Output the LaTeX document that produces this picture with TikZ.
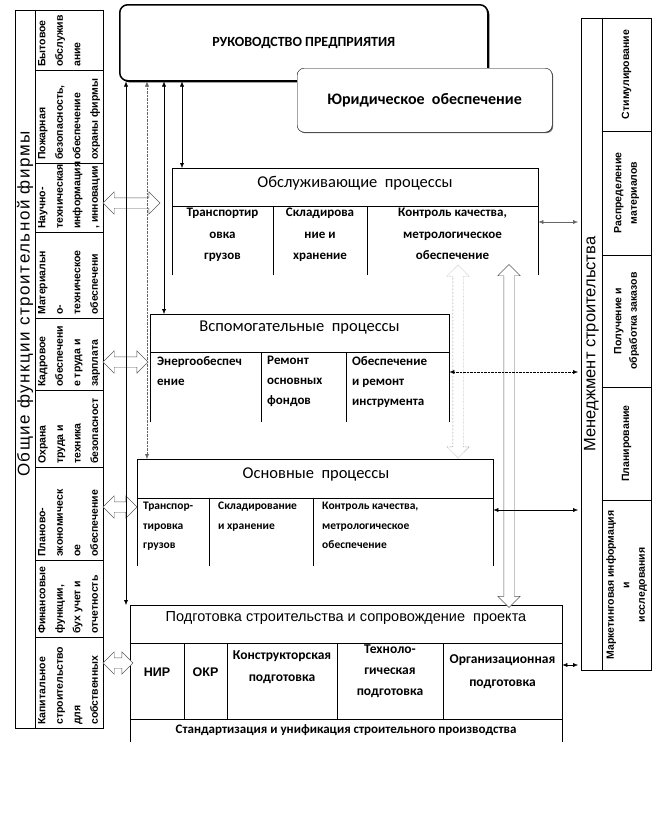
\documentclass[tikz,border=0pt]{standalone}
\usepackage{fontspec}
\setmainfont{Carlito}
\newfontfamily\arialf{Liberation Sans}
\newfontfamily\arialwide[LetterSpace=9]{Liberation Sans}
\usetikzlibrary{arrows.meta,positioning,shapes.arrows,calc,shadows}

\begin{document}
\begin{tikzpicture}[x=1pt, y=-1pt, >={Latex[length=5pt,width=4pt]}]
        \tikzset{panel/.style={rectangle, draw, inner sep=0pt, anchor=north west},
            proc/.style={rectangle, inner sep=0pt, anchor=north west},
            head/.style={inner sep=0pt, font=\fontsize{16.5}{18}\selectfont},
            celltext/.style={rotate=90, anchor=north west, inner sep=0pt, align=left, font=\arialf\bfseries\fontsize{10.5}{17.5}\selectfont},
            mgmttext/.style={rotate=90, inner sep=0pt, align=center, font=\arialf\bfseries\fontsize{10.5}{15.5}\selectfont},
            coltext/.style={inner sep=0pt, anchor=north, align=center, font=\bfseries\fontsize{13}{21.5}\selectfont},
            lefttext/.style={inner sep=0pt, anchor=north west, align=left, font=\bfseries\fontsize{13}{20}\selectfont},
            blockarrow/.style={shape=double arrow, draw=black!65, fill=white, inner sep=0pt, text height=5pt, text depth=5pt, double arrow head extend=6pt},
            link/.style={<->, thin}}
        \useasboundingbox (0,0) rectangle (669,830);

        % top management
        \node[rectangle, draw, rounded corners=8pt, line width=1.5pt, fill=white, drop shadow={shadow xshift=1.5pt, shadow yshift=-1.5pt, opacity=1, fill=black}, minimum width=368, minimum height=76, anchor=north west, font=\bfseries\fontsize{14}{16}\selectfont] (lead) at (119,4) {РУКОВОДСТВО ПРЕДПРИЯТИЯ};
        \node[rectangle, draw, rounded corners=7pt, fill=white, drop shadow={shadow xshift=1pt, shadow yshift=-1pt, opacity=1, fill=black!60}, minimum width=255, minimum height=64, anchor=north west, font=\bfseries\fontsize{16}{18}\selectfont] (law) at (297,68) {Юридическое\ \ обеспечение};

        % general functions
        \node[panel, minimum width=88, minimum height=718] (genf) at (15,10) {};
        \draw (35,10) -- (35,728);
        \draw (35,70) -- (103,70) (35,163) -- (103,163) (35,232) -- (103,232) (35,318) -- (103,318)
              (35,390) -- (103,390) (35,467) -- (103,467) (35,560) -- (103,560) (35,637) -- (103,637);
        \node[rotate=90, inner sep=0pt, font=\arialwide\fontsize{17}{19}\selectfont] (genft) at (25,304) {Общие функции строительной фирмы};
        \node[celltext] (g1) at (38,67) {Бытовое\\обслужив\\ание};
        \node[celltext] (g2) at (38,160) {Пожарная\\безопасность,\\обеспечение\\охраны фирмы};
        \node[celltext] (g3) at (38,229) {Научно-\\техническая\\информация\\, инновации};
        \node[celltext] (g4) at (38,315) {Материальн\\о-\\техническое\\обеспечени};
        \node[celltext] (g5) at (38,387) {Кадровое\\обеспечени\\е труда и\\зарплата};
        \node[celltext] (g6) at (38,464) {Охрана\\труда и\\техника\\безопасност};
        \node[celltext] (g7) at (38,557) {Планово-\\экономическ\\ое\\обеспечение};
        \node[celltext] (g8) at (38,634) {Финансовые\\функции,\\бух учет и\\отчетность};
        \node[celltext] (g9) at (38,725) {Капитальное\\строительство\\для\\собственных};

        % construction management
        \node[panel, minimum width=70, minimum height=652] (mgmt) at (581,18) {};
        \draw (602,18) -- (602,670);
        \draw (602,131) -- (651,131) (602,255) -- (651,255) (602,387) -- (651,387) (602,500) -- (651,500);
        \node[rotate=90, inner sep=0pt, font=\arialf\fontsize{16.5}{18}\selectfont] (mgmtt) at (591.5,344) {Менеджмент строительства};
        \node[mgmttext] (m1) at (626.5,74.5) {Стимулирование};
        \node[mgmttext] (m2) at (626.5,193) {Распределение\\материалов};
        \node[mgmttext] (m3) at (626.5,321) {Получение и\\обработка заказов};
        \node[mgmttext] (m4) at (626.5,443.5) {Планирование};
        \node[mgmttext] (m5) at (626.5,585) {Маркетинговая информация\\и\\исследования};

        % servicing processes
        \node[proc, minimum width=366, minimum height=107] (serv) at (172,168) {};
        \draw (serv.south west) |- (serv.north east) -- (serv.south east);
        \draw (172,206) -- (538,206) (273,206) -- (273,275) (367,206) -- (367,275);
        \node[head] (servh) at (355,183) {Обслуживающие\ \ процессы};
        \node[coltext] (serv1) at (222.5,208) {Транспортир\\овка\\грузов};
        \node[coltext] (serv2) at (320,208) {Складирова\\ние и\\хранение};
        \node[coltext] (serv3) at (452.5,208) {Контроль качества,\\метрологическое\\обеспечение};

        % auxiliary processes
        \node[proc, minimum width=299, minimum height=108] (aux) at (150,314) {};
        \draw (aux.south west) |- (aux.north east) -- (aux.south east);
        \draw (150,352) -- (449,352) (261,352) -- (261,422) (346,352) -- (346,422);
        \node[head] (auxh) at (299.5,328) {Вспомогательные\ \ процессы};
        \node[lefttext] (aux1) at (157,356) {Энергообеспеч\\ение};
        \node[lefttext] (aux2) at (267,356) {Ремонт\\основных\\фондов};
        \node[lefttext] (aux3) at (352,356) {Обеспечение\\и ремонт\\инструмента};

        % main processes
        \node[proc, minimum width=356, minimum height=107] (main) at (137,459) {};
        \draw (main.south west) |- (main.north east) -- (main.south east);
        \draw (137,498) -- (493,498) (209,498) -- (209,566) (313,498) -- (313,566);
        \node[head] (mainh) at (316,474) {Основные\ \ процессы};
        \node[lefttext, font=\bfseries\fontsize{11.5}{19.5}\selectfont] (main1) at (143,502) {Транспор-\\тировка\\грузов};
        \node[lefttext, font=\bfseries\fontsize{11.5}{19.5}\selectfont] (main2) at (218,502) {Складирование\\и хранение};
        \node[lefttext, font=\bfseries\fontsize{11.5}{19.5}\selectfont] (main3) at (322,502) {Контроль качества,\\метрологическое\\обеспечение};

        % preparation
        \node[proc, minimum width=432, minimum height=137] (prep) at (130,605) {};
        \draw (prep.south west) |- (prep.north east) -- (prep.south east);
        \draw (130,643) -- (562,643) (130,719) -- (562,719);
        \draw (184,643) -- (184,719) (227,643) -- (227,719) (337,643) -- (337,719) (443,643) -- (443,719);
        \node[inner sep=0pt, font=\arialf\fontsize{14.5}{16}\selectfont] (preph) at (346,618) {Подготовка строительства и сопровождение\ \ проекта};
        \node[inner sep=0pt, font=\arialf\bfseries\fontsize{12.5}{14}\selectfont] (prep1) at (157,672) {НИР};
        \node[inner sep=0pt, font=\arialf\bfseries\fontsize{12.5}{14}\selectfont] (prep2) at (205.5,672) {ОКР};
        \node[inner sep=0pt, align=center, font=\bfseries\fontsize{13.5}{22.5}\selectfont] (prep3) at (282,667) {Конструкторская\\подготовка};
        \node[inner sep=0pt, align=center, font=\bfseries\fontsize{13.5}{21}\selectfont] (prep4) at (390,671) {Техноло-\\гическая\\подготовка};
        \node[inner sep=0pt, align=center, font=\bfseries\fontsize{13.5}{23}\selectfont] (prep5) at (502.5,671.5) {Организационная\\подготовка};
        \node[inner sep=0pt, font=\bfseries\fontsize{13}{15}\selectfont] (prep6) at (346,730) {Стандартизация и унификация строительного производства};

        % block arrows
        \node[blockarrow, minimum height=57] (ba1) at (131.5,203) {};
        \node[blockarrow, minimum height=45] (ba2) at (125.5,362) {};
        \node[blockarrow, minimum height=34] (ba3) at (120,507) {};
        \node[blockarrow, minimum height=30] (ba4) at (118,663) {};
        \node[blockarrow, densely dotted, rotate=90, minimum height=193] (ba5) at (458,361.5) {};
        \node[blockarrow, rotate=90, minimum height=343] (ba6) at (509,436) {};

        % links to top management
        \coordinate (lx1) at (126,0);
        \coordinate (lx2) at (147,0);
        \coordinate (lx3) at (164,0);
        \coordinate (lx4) at (182,0);
        \draw[link] (lead.south -| lx1) -- (prep.north -| lx1);
        \draw[link, densely dotted, black!60] (lead.south -| lx2) -- (main.north -| lx2);
        \draw[link] (lead.south -| lx3) -- (aux.north -| lx3);
        \draw[link] (lead.south -| lx4) -- (serv.north -| lx4);

        % links to construction management
        \coordinate (ry1) at (0,222);
        \coordinate (ry2) at (0,372);
        \coordinate (ry3) at (0,510);
        \coordinate (ry4) at (0,665);
        \draw[link, black!60, shorten >=3pt] (serv.east |- ry1) -- (mgmt.west |- ry1);
        \draw[link, densely dotted, shorten >=3pt] (aux.east |- ry2) -- (mgmt.west |- ry2);
        \draw[link, shorten >=3pt] (main.east |- ry3) -- (mgmt.west |- ry3);
        \draw[link, shorten >=3pt] (prep.east |- ry4) -- (mgmt.west |- ry4);
    \end{tikzpicture}
\end{document}
